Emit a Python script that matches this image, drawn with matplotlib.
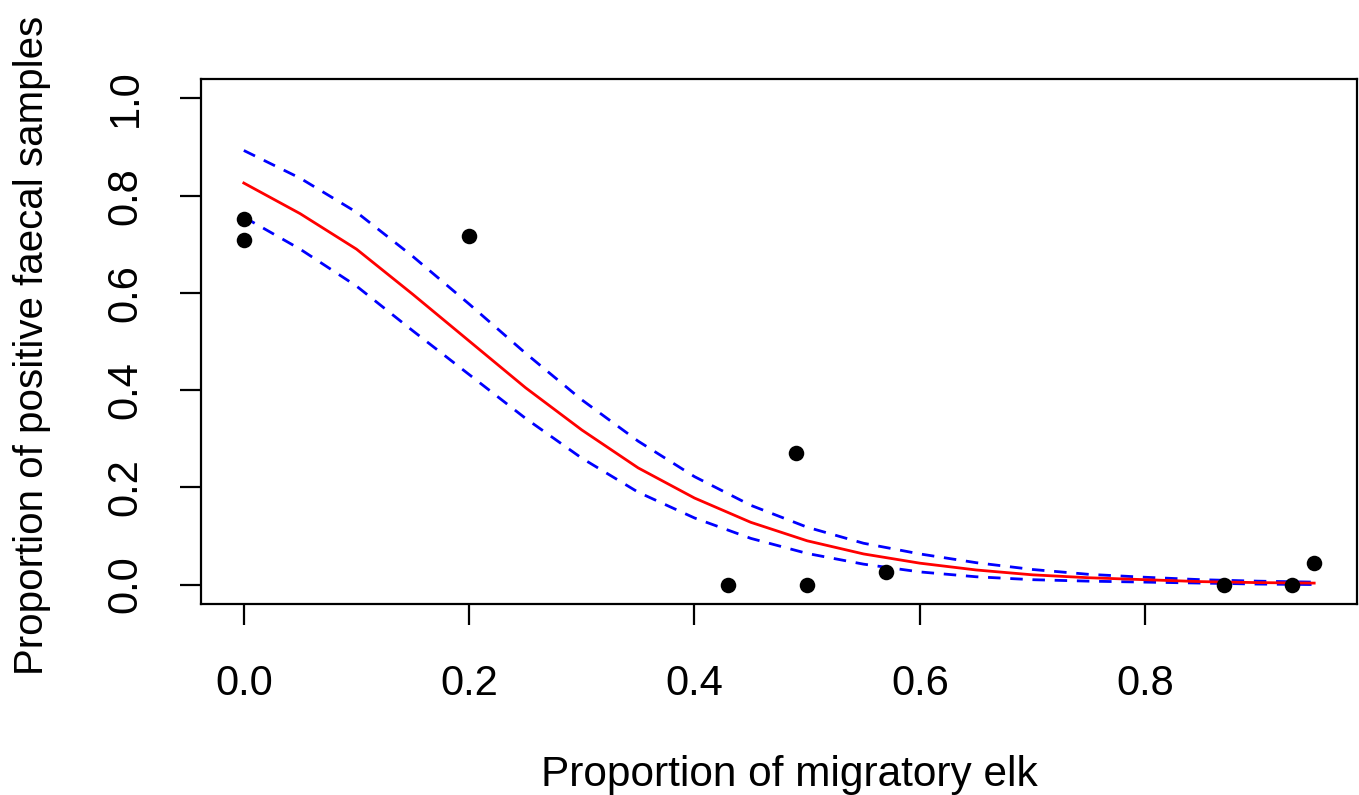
import matplotlib
matplotlib.use("Agg")
import matplotlib.pyplot as plt

# Observed data points
mig_x = [0.0, 0.0, 0.20, 0.43, 0.49, 0.50, 0.57, 0.87, 0.93, 0.95]
pos_y = [0.752, 0.709, 0.717, 0.0, 0.270, 0.0, 0.025, 0.0, 0.0, 0.044]

# Fitted curve and confidence band
fit_x = [0.00, 0.05, 0.10, 0.15, 0.20, 0.25, 0.30, 0.35, 0.40, 0.45,
         0.50, 0.55, 0.60, 0.65, 0.70, 0.75, 0.80, 0.85, 0.90, 0.95]
fit_y = [0.826, 0.763, 0.690, 0.597, 0.501, 0.405, 0.318, 0.240, 0.178, 0.128,
         0.090, 0.063, 0.044, 0.030, 0.020, 0.014, 0.010, 0.006, 0.004, 0.003]
upper_y = [0.893, 0.836, 0.766, 0.675, 0.577, 0.476, 0.380, 0.295, 0.222, 0.163,
           0.118, 0.085, 0.063, 0.045, 0.031, 0.021, 0.015, 0.010, 0.007, 0.005]
lower_y = [0.756, 0.690, 0.614, 0.522, 0.432, 0.342, 0.260, 0.190, 0.137, 0.095,
           0.064, 0.042, 0.026, 0.016, 0.010, 0.007, 0.005, 0.003, 0.001, 0.000]

x_ticks = [0.0, 0.2, 0.4, 0.6, 0.8]
y_ticks = [0.0, 0.2, 0.4, 0.6, 0.8, 1.0]
x_label = "Proportion of migratory elk"
y_label = "Proportion of positive faecal samples"

plt.rcParams['font.family'] = ['Liberation Sans', 'DejaVu Sans']
W, H = 1359, 795
fig = plt.figure(figsize=(W / 100, H / 100), dpi=100)
left, right, top, bottom = 201, 1357, 79, 604
ax = fig.add_axes([left / W, 1 - bottom / H, (right - left) / W, (bottom - top) / H])

ax.plot(fit_x, upper_y, color='#0000FF', lw=2, dashes=[4.5, 3.5])
ax.plot(fit_x, lower_y, color='#0000FF', lw=2, dashes=[4.5, 3.5])
ax.plot(fit_x, fit_y, color='#FF0000', lw=2)
ax.scatter(mig_x, pos_y, s=125, color='black', zorder=3, linewidths=0)

ax.set_xlim(-0.038, 0.988)
ax.set_ylim(-0.04, 1.04)
ax.set_xticks(x_ticks)
ax.set_xticklabels([f"{v:.1f}" for v in x_ticks])
ax.set_yticks(y_ticks)
ax.set_yticklabels([f"{v:.1f}" for v in y_ticks], rotation=90, va='center')
ax.tick_params(axis='both', length=15, width=1.6, labelsize=30, color='black')
ax.tick_params(axis='x', pad=28)
ax.tick_params(axis='y', pad=25)
for sp in ax.spines.values():
    sp.set_linewidth(1.6)
    sp.set_color('black')

fig.text(789 / W, 1 - 786 / H, x_label, fontsize=30.5, ha='center', va='baseline')
fig.text(43 / W, 1 - 345 / H, y_label, fontsize=29, ha='center', va='baseline',
         rotation=90, rotation_mode='anchor')

fig.savefig("out.png", dpi=100, facecolor='white')
